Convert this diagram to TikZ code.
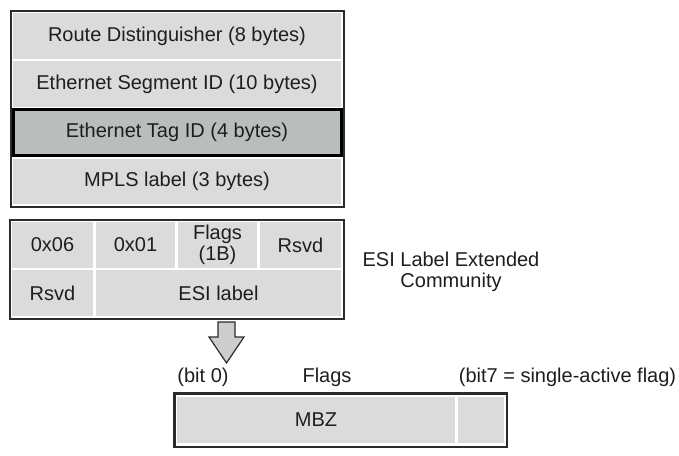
\documentclass[tikz,border=0pt]{standalone}
\usepackage{fontspec}
\setmainfont{Liberation Sans}
\usepackage{xcolor}
\usepackage{tikz}
\usetikzlibrary{positioning,calc,fit,backgrounds}
\definecolor{fieldgray}{HTML}{DBDBDB}
\definecolor{taggray}{HTML}{B9BEBD}
\definecolor{rim}{HTML}{2B2B2B}
\definecolor{ink}{HTML}{1E1E1E}
\definecolor{dropgray}{HTML}{CDCDCD}

\begin{document}
\begin{tikzpicture}[
  x=1pt, y=-1pt,
  font=\fontsize{20}{20.5}\selectfont, text=ink,
  field/.style={fill=fieldgray, inner sep=0pt, outer sep=0pt, minimum height=46pt, align=center},
  hot/.style={field, fill=taggray, draw=black, line width=3pt},
  frame/.style={draw=rim, line width=2pt, inner sep=2.5pt},
  note/.style={inner sep=0pt, align=center},
  hollow/.style={draw=rim, line width=1.2pt, fill=dropgray, line join=miter},
]
\useasboundingbox (0,0) rectangle (679,455);

% route fields
\node[field, minimum width=328pt, anchor=north west] (rd) at (13,13) {Route Distinguisher (8 bytes)};
\node[field, minimum width=328pt, below=2pt of rd] (esi) {Ethernet Segment ID (10 bytes)};
\node[hot, minimum width=328pt, below=2.5pt of esi] (tag) {Ethernet Tag ID (4 bytes)};
\node[field, minimum width=328pt, minimum height=45pt, below=3.5pt of tag] (mpls) {MPLS label (3 bytes)};

% ESI label extended community
\node[field, minimum width=81pt, anchor=north west] (type) at (12,222) {0x06};
\node[field, minimum width=79pt, right=3pt of type] (subtype) {0x01};
\node[field, minimum width=79pt, right=3pt of subtype] (flags) {Flags\\(1B)};
\node[field, minimum width=81pt, right=3pt of flags] (rsvda) {Rsvd};
\node[field, minimum width=81pt, below=2pt of type] (rsvdb) {Rsvd};
\node[field, minimum width=245pt, right=3pt of rsvdb] (esilabel) {ESI label};
\node[note] (community) at (451,272) {ESI Label Extended\\Community};

% flags octet
\node[field, minimum width=278pt, anchor=north west] (mbz) at (177,397) {MBZ};
\node[field, minimum width=46pt, right=3pt of mbz] (bitseven) {};
\node[note] (bitzero) at (203,377) {(bit 0)};
\node[note] (flagname) at (327,377) {Flags};
\node[note] (bitnote) at (567.5,377) {(bit7 = single-active flag)};

\begin{scope}[on background layer]
\node[frame, fit=(rd)(mpls)] (route) {};
\node[frame, fit=(type)(rsvda)(esilabel)] (community box) {};
\node[frame, line width=2.5pt, inner xsep=2.75pt, inner ysep=3.75pt, fit=(mbz)(bitseven)] (octet) {};
\end{scope}

\coordinate (drop) at (226.5,322);
\draw[hollow] ($(drop)+(-8.5,0)$) -- ++(17,0) -- ++(0,15) -- ++(9,0) -- ++(-17.5,26)
  -- ++(-17.5,-26) -- ++(9,0) -- cycle;
\end{tikzpicture}
\end{document}
